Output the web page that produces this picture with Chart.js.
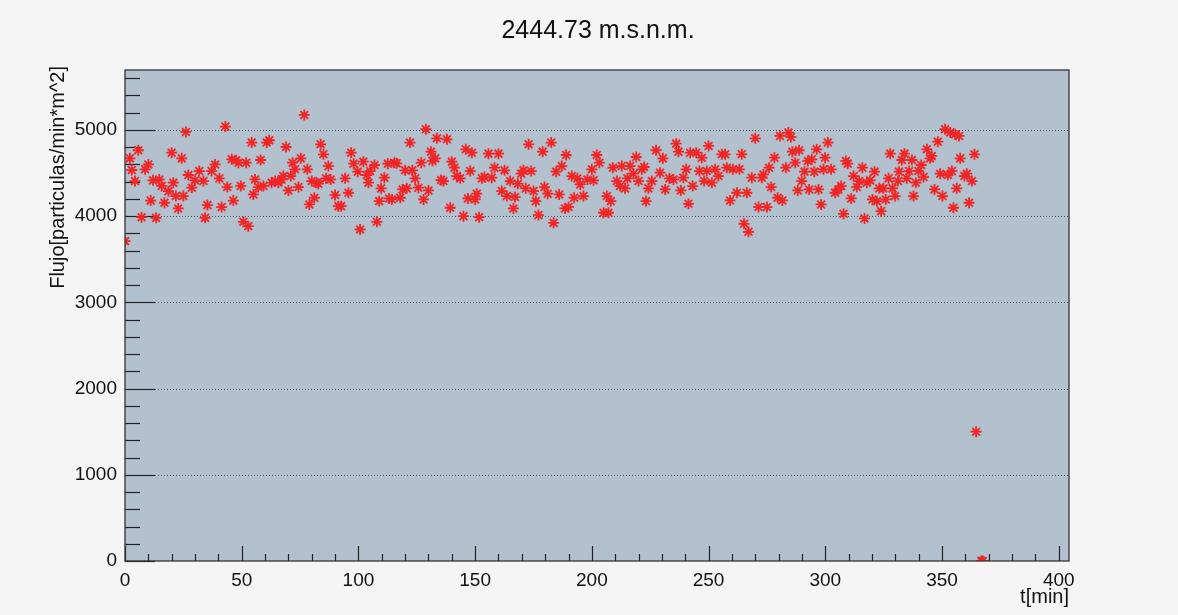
<!DOCTYPE html>
<html>
<head>
<meta charset="utf-8">
<script src="https://cdn.jsdelivr.net/npm/chart.js@4"></script>
<style>
  html, body { margin: 0; padding: 0; background: #f5f5f5; }
  #wrap { width: 1178px; height: 615px; }
</style>
</head>
<body>
<div id="wrap"><canvas id="fluxChart" width="1178" height="615"></canvas></div>
<script>
// minutes since start of run
const timeMin = [
  0, 2.1, 2.9, 4.3, 5.7, 7.1, 8.6, 10, 11, 12, 13.3, 14.7, 15.7, 16.9, 18.6, 20, 20.7, 21.8, 22.8, 24.3,
  25, 26.1, 27.1, 28.6, 30, 31.8, 33.6, 34.3, 35.3, 37.1, 38.6, 40.4, 41.4, 43, 43.8, 45.7, 46.4, 47.6, 48.6, 49.6,
  50.7, 51.9, 52.8, 54.3, 55, 55.7, 57.1, 58.1, 59.3, 60.7, 61.8, 62.8, 64.3, 65.7, 67.1, 67.8, 69, 70, 71, 71.8,
  72.8, 74.3, 75.3, 76.8, 78.1, 79, 80, 81.1, 82.1, 82.8, 83.8, 85, 86.1, 87.1, 88.1, 90, 91.4,
  92.6, 94.3, 95.7, 96.9, 97.9, 99.7, 100.7, 102.1, 103.6, 104.3, 105, 106.9, 107.9, 108.9, 109.7, 111.1, 112.6, 113.1,
  114.3, 115.4, 116.4, 117.9, 118.9, 120, 120.7, 122.1, 123.1, 124.3, 125.7, 126.9, 127.9, 128.9, 130, 131.1, 131.7,
  132.9, 133.6, 135.4, 136.4, 137.9, 139.3, 140, 141.1, 142.1, 143.6, 145, 146, 146.9, 147.9, 148.6, 150, 150.7, 151.7,
  152.9, 154, 155.7, 157.1, 158.3, 160, 161.4, 162.6, 163.6, 165, 166.4, 167.1, 168.3, 169.7, 170.7, 171.7, 172.9,
  174, 175, 176, 177.1, 178.9, 179.7, 181.1, 182.6, 183.6, 184.7, 186, 187.1, 188.5, 189, 190, 191.4, 192.4, 193.8,
  195, 196.4, 198.1, 200, 200.7, 202.1, 203.2, 205, 206.4, 207.1, 208.1, 209, 210.7, 212.1, 212.8, 214.2, 215.2, 216.4,
  217.8, 219, 220, 221.4, 222.4, 223.2, 224.2, 225.7, 227.5, 229.2, 230.4, 231.4, 233.2, 235, 236.1, 237.1, 238.1,
  239.2, 240.4, 241.4, 242.1, 243.2, 244.7, 246.1, 247.1, 248.1, 249.2, 250, 251.4, 252.8, 254.2, 255.7, 257.1, 257.8,
  259.2, 260.4, 262.1, 263.2, 264.2, 265.2, 266.4, 267.1, 268.5, 270, 271.4, 272.8, 273.5, 275, 275.9, 276.8, 278.2,
  279.6, 280.6, 281.6, 283.1, 284.2, 285.3, 285.9, 287.1, 288.2, 288.8, 289.9, 291.1, 292.5, 293.1, 294.2, 295.3, 296.3,
  297.1, 298.2, 299.2, 299.9, 301.1, 302.5, 304.2, 305.6, 306.8, 307.8, 308.8, 309.6, 311.1, 312.1, 313.5, 314.5, 315.9,
  316.8, 317.8, 319.2, 320.2, 321.1, 322.1, 323.1, 323.9, 324.9, 325.9, 327.1, 327.8, 328.8, 329.9, 331.1, 331.6, 332.8,
  333.9, 334.9, 335.9, 337.1, 337.8, 338.8, 339.9, 341.1, 342.1, 343.5, 344.9, 345.6, 346.8, 348.2, 349.2, 350.2, 351.3,
  352.5, 353.5, 354.2, 354.9, 355.6, 356.3, 357.3, 357.8, 359.6, 360.6, 361.6, 362.8, 363.9, 364.6, 366.8, 367.5
];
// flux [particulas/min*m^2]
const flux = [
  3710, 4670, 4535, 4407, 4764, 3988, 4543, 4600, 4180, 4415, 3980, 4426, 4350, 4155, 4290, 4736, 4388, 4233, 4089, 4670,
  4233, 4977, 4477, 4330, 4415, 4523, 4407, 3980, 4128, 4523, 4600, 4438, 4105, 5039, 4337, 4659, 4180, 4647, 4620, 4350,
  3934, 4620, 3884, 4853, 4252, 4426, 4337, 4651, 4350, 4853, 4880, 4388, 4407, 4388, 4426, 4465, 4802, 4298, 4465, 4620,
  4543, 4337, 4670, 5174, 4543, 4136, 4407, 4213, 4388, 4376, 4833, 4717, 4438, 4581, 4426, 4244, 4116,
  4116, 4438, 4271, 4736, 4609, 4516, 3845, 4632, 4477, 4388, 4523, 4593, 3934, 4174, 4322, 4446, 4609, 4205,
  4194, 4620, 4612, 4213, 4310, 4531, 4322, 4853, 4531, 4438, 4330, 4620, 4194, 5008, 4298, 4748, 4640,
  4670, 4903, 4419, 4407, 4891, 4097, 4632, 4562, 4465, 4438, 4000, 4775, 4205, 4523, 4736, 4194, 4260, 3988,
  4438, 4453, 4725, 4446, 4562, 4725, 4291, 4531, 4233, 4407, 4089, 4221, 4376, 4492, 4531, 4322, 4833,
  4523, 4291, 4174, 4012, 4748, 4337, 4260, 4853, 3922, 4516, 4252, 4581, 4089, 4709, 4105, 4465, 4213, 4438,
  4368, 4233, 4426, 4543, 4415, 4709, 4620, 4039, 4233, 4039, 4174, 4562, 4407, 4349, 4581, 4322, 4438, 4581,
  4492, 4686, 4407, 4543, 4570, 4174, 4322, 4407, 4764, 4504, 4670, 4310, 4438, 4426, 4841, 4748, 4298,
  4446, 4543, 4143, 4736, 4349, 4736, 4523, 4678, 4407, 4523, 4814, 4388, 4543, 4465, 4717, 4717, 4562,
  4182, 4543, 4271, 4543, 4717, 3911, 4271, 3818, 4446, 4903, 4105, 4446, 4484, 4105, 4562, 4337, 4678,
  4213, 4930, 4182, 4562, 4969, 4919, 4748, 4620, 4298, 4764, 4407, 4516, 4640, 4310, 4659, 4516, 4775,
  4310, 4136, 4543, 4678, 4853, 4543, 4271, 4310, 4349, 4027, 4640, 4609, 4205, 4465, 4337, 4407, 4562,
  3973, 4388, 4415, 4194, 4516, 4174, 4322, 4058, 4322, 4194, 4438, 4725, 4322, 4233, 4407, 4516, 4651,
  4725, 4438, 4523, 4651, 4233, 4388, 4523, 4593, 4453, 4775, 4670, 4698, 4310, 4864, 4492, 4233, 5008,
  4477, 4969, 4523, 4097, 4950, 4322, 4930, 4670, 4465, 4492, 4155, 4407, 4717, 1500, 0, 0
];
const yTicks = [0, 1000, 2000, 3000, 4000, 5000];
const xTicks = [0, 50, 100, 150, 200, 250, 300, 350, 400];

const points = timeMin.map((t, i) => ({ x: t, y: flux[i] }));

const FONT = 'Liberation Sans, Arial, Helvetica, sans-serif';

// ROOT-like frame: pad fill, dotted grid, inward ticks, titles
const rootFrame = {
  id: 'rootFrame',
  beforeDraw(chart) {
    const { ctx, chartArea: a } = chart;
    ctx.save();
    ctx.fillStyle = '#f5f5f5';
    ctx.fillRect(0, 0, chart.width, chart.height);
    ctx.fillStyle = '#b3c0cd';
    ctx.fillRect(a.left, a.top, a.right - a.left, a.bottom - a.top);
    ctx.restore();
  },
  beforeDatasetsDraw(chart) {
    const { ctx, chartArea: a, scales } = chart;
    const xs = scales.x, ys = scales.y;
    ctx.save();
    // dotted grid on y majors
    ctx.strokeStyle = '#4a5560';
    ctx.lineWidth = 1;
    ctx.setLineDash([1, 2]);
    yTicks.forEach(v => {
      if (v === 0) return;
      const py = Math.round(ys.getPixelForValue(v)) + 0.5;
      ctx.beginPath(); ctx.moveTo(a.left, py); ctx.lineTo(a.right, py); ctx.stroke();
    });
    ctx.setLineDash([]);
    // ticks
    ctx.strokeStyle = '#222';
    ctx.lineWidth = 1.2;
    for (let v = 0; v <= ys.max; v += 200) {
      const py = Math.round(ys.getPixelForValue(v)) + 0.5;
      const len = v % 1000 === 0 ? 30 : 15;
      ctx.beginPath(); ctx.moveTo(a.left, py); ctx.lineTo(a.left + len, py); ctx.stroke();
    }
    for (let v = 0; v <= xs.max; v += 10) {
      const px = Math.round(xs.getPixelForValue(v)) + 0.5;
      const len = v % 50 === 0 ? 15 : 7;
      ctx.beginPath(); ctx.moveTo(px, a.bottom); ctx.lineTo(px, a.bottom - len); ctx.stroke();
    }
    ctx.restore();
  },
  afterDraw(chart) {
    const { ctx, chartArea: a } = chart;
    ctx.save();
    // frame
    ctx.strokeStyle = '#333';
    ctx.lineWidth = 1.3;
    ctx.strokeRect(a.left, a.top, a.right - a.left, a.bottom - a.top);
    // titles
    ctx.fillStyle = '#111';
    ctx.font = '25px ' + FONT;
    ctx.textAlign = 'center';
    ctx.textBaseline = 'middle';
    ctx.fillText('2444.73 m.s.n.m.', 598, 31);
    ctx.font = '20px ' + FONT;
    ctx.textAlign = 'right';
    ctx.textBaseline = 'alphabetic';
    ctx.fillText('t[min]', a.right, 603);
    ctx.translate(64, a.top - 4);
    ctx.rotate(-Math.PI / 2);
    ctx.textAlign = 'right';
    ctx.fillText('Flujo[particulas/min*m^2]', 0, 0);
    ctx.restore();
  }
};

const chart = new Chart(document.getElementById('fluxChart'), {
  type: 'scatter',
  data: {
    datasets: [{
      label: 'flujo',
      data: points,
      pointStyle: 'star',
      pointRadius: 5.5,
      pointHoverRadius: 5.5,
      borderColor: '#f02525',
      backgroundColor: '#f02525',
      pointBorderWidth: 1.8
    }]
  },
  options: {
    responsive: false,
    animation: false,
    layout: { padding: { top: 70, right: 109, left: 0, bottom: 0 } },
    plugins: {
      legend: { display: false },
      tooltip: { enabled: false },
      title: { display: false }
    },
    scales: {
      x: {
        type: 'linear',
        min: 0,
        max: 404.4,
        grid: { display: false },
        border: { display: false },
        afterFit: s => { s.height = 54; },
        afterBuildTicks: s => { s.ticks = xTicks.map(v => ({ value: v })); },
        ticks: {
          padding: 0,
          color: '#111',
          font: { family: FONT, size: 19 },
          maxRotation: 0,
          autoSkip: false,
          callback: v => String(v)
        }
      },
      y: {
        type: 'linear',
        min: 0,
        max: 5695,
        grid: { display: false, drawTicks: false },
        border: { display: false },
        afterFit: s => { s.width = 125; },
        afterBuildTicks: s => { s.ticks = yTicks.map(v => ({ value: v })); },
        ticks: {
          padding: 8,
          color: '#111',
          font: { family: FONT, size: 19 },
          callback: v => String(v)
        }
      }
    }
  },
  plugins: [rootFrame]
});
</script>
</body>
</html>
